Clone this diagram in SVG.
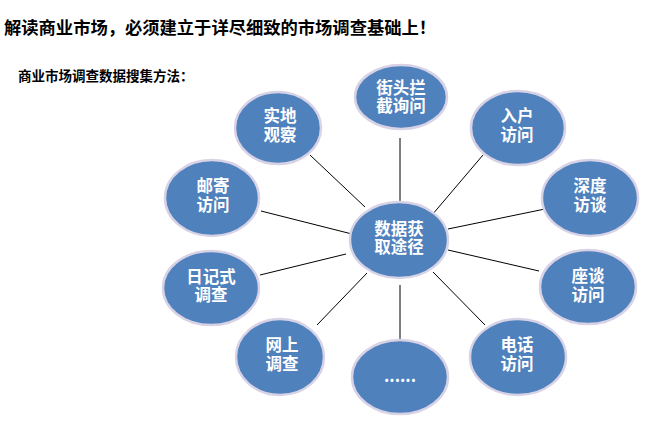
<svg xmlns="http://www.w3.org/2000/svg" width="650" height="432" viewBox="0 0 650 432">
<style>
.bg{fill:#ffffff}
.title{font-family:"Noto Sans CJK SC","Liberation Sans",sans-serif;font-weight:bold;fill:#000}
.node ellipse{fill:#4f81bd;stroke:#d8d2e6;stroke-width:2.5}
.node text{font-family:"Noto Sans CJK SC","Liberation Sans",sans-serif;font-weight:bold;font-size:16.5px;fill:#fff;text-anchor:middle}
.conn line{stroke:#000;stroke-width:1}
</style>
<rect class="bg" x="0" y="0" width="650" height="432"/>
<text class="title" x="4" y="34" font-size="17.3">解读商业市场，必须建立于详尽细致的市场调查基础上！</text>
<text class="title" x="18" y="81" font-size="13.5">商业市场调查数据搜集方法：</text>
<g id="connectors" class="conn">
<line x1="400" y1="138" x2="400" y2="202"/>
<line x1="310" y1="155" x2="365" y2="207"/>
<line x1="483" y1="155" x2="432" y2="215"/>
<line x1="261" y1="211" x2="352" y2="234"/>
<line x1="260" y1="275" x2="346" y2="254"/>
<line x1="448" y1="229" x2="545" y2="209"/>
<line x1="448" y1="250" x2="539" y2="271"/>
<line x1="367" y1="273" x2="317" y2="325"/>
<line x1="400" y1="285" x2="400" y2="340"/>
<line x1="433" y1="272" x2="485" y2="325"/>
</g>
<g id="n-center" class="node">
<ellipse cx="399" cy="240" rx="49" ry="38"/>
<text x="399" y="235">数据获<tspan x="399" dy="18">取途径</tspan></text>
</g>
<g id="n-street" class="node">
<ellipse cx="401" cy="97" rx="46" ry="32"/>
<text x="401" y="94">街头拦<tspan x="401" dy="18">截询问</tspan></text>
</g>
<g id="n-observe" class="node">
<ellipse cx="278" cy="128" rx="43" ry="36"/>
<text x="280" y="122">实地<tspan x="280" dy="19">观察</tspan></text>
</g>
<g id="n-mail" class="node">
<ellipse cx="212" cy="198" rx="47" ry="38"/>
<text x="213" y="192">邮寄<tspan x="213" dy="19">访问</tspan></text>
</g>
<g id="n-diary" class="node">
<ellipse cx="211" cy="288" rx="48" ry="37"/>
<text x="211" y="283">日记式<tspan x="211" dy="18">调查</tspan></text>
</g>
<g id="n-online" class="node">
<ellipse cx="280" cy="357" rx="44" ry="38"/>
<text x="282" y="351">网上<tspan x="282" dy="19">调查</tspan></text>
</g>
<g id="n-more" class="node">
<ellipse cx="400" cy="377" rx="48" ry="37"/>
<text x="400" y="382">......</text>
</g>
<g id="n-home" class="node">
<ellipse cx="518" cy="128" rx="47" ry="37"/>
<text x="517" y="122">入户<tspan x="517" dy="19">访问</tspan></text>
</g>
<g id="n-depth" class="node">
<ellipse cx="590" cy="198" rx="48" ry="38"/>
<text x="590" y="192">深度<tspan x="590" dy="19">访谈</tspan></text>
</g>
<g id="n-forum" class="node">
<ellipse cx="588" cy="287" rx="48" ry="37"/>
<text x="588" y="282">座谈<tspan x="588" dy="19">访问</tspan></text>
</g>
<g id="n-phone" class="node">
<ellipse cx="518" cy="357" rx="48" ry="38"/>
<text x="517" y="351">电话<tspan x="517" dy="19">访问</tspan></text>
</g>
</svg>
